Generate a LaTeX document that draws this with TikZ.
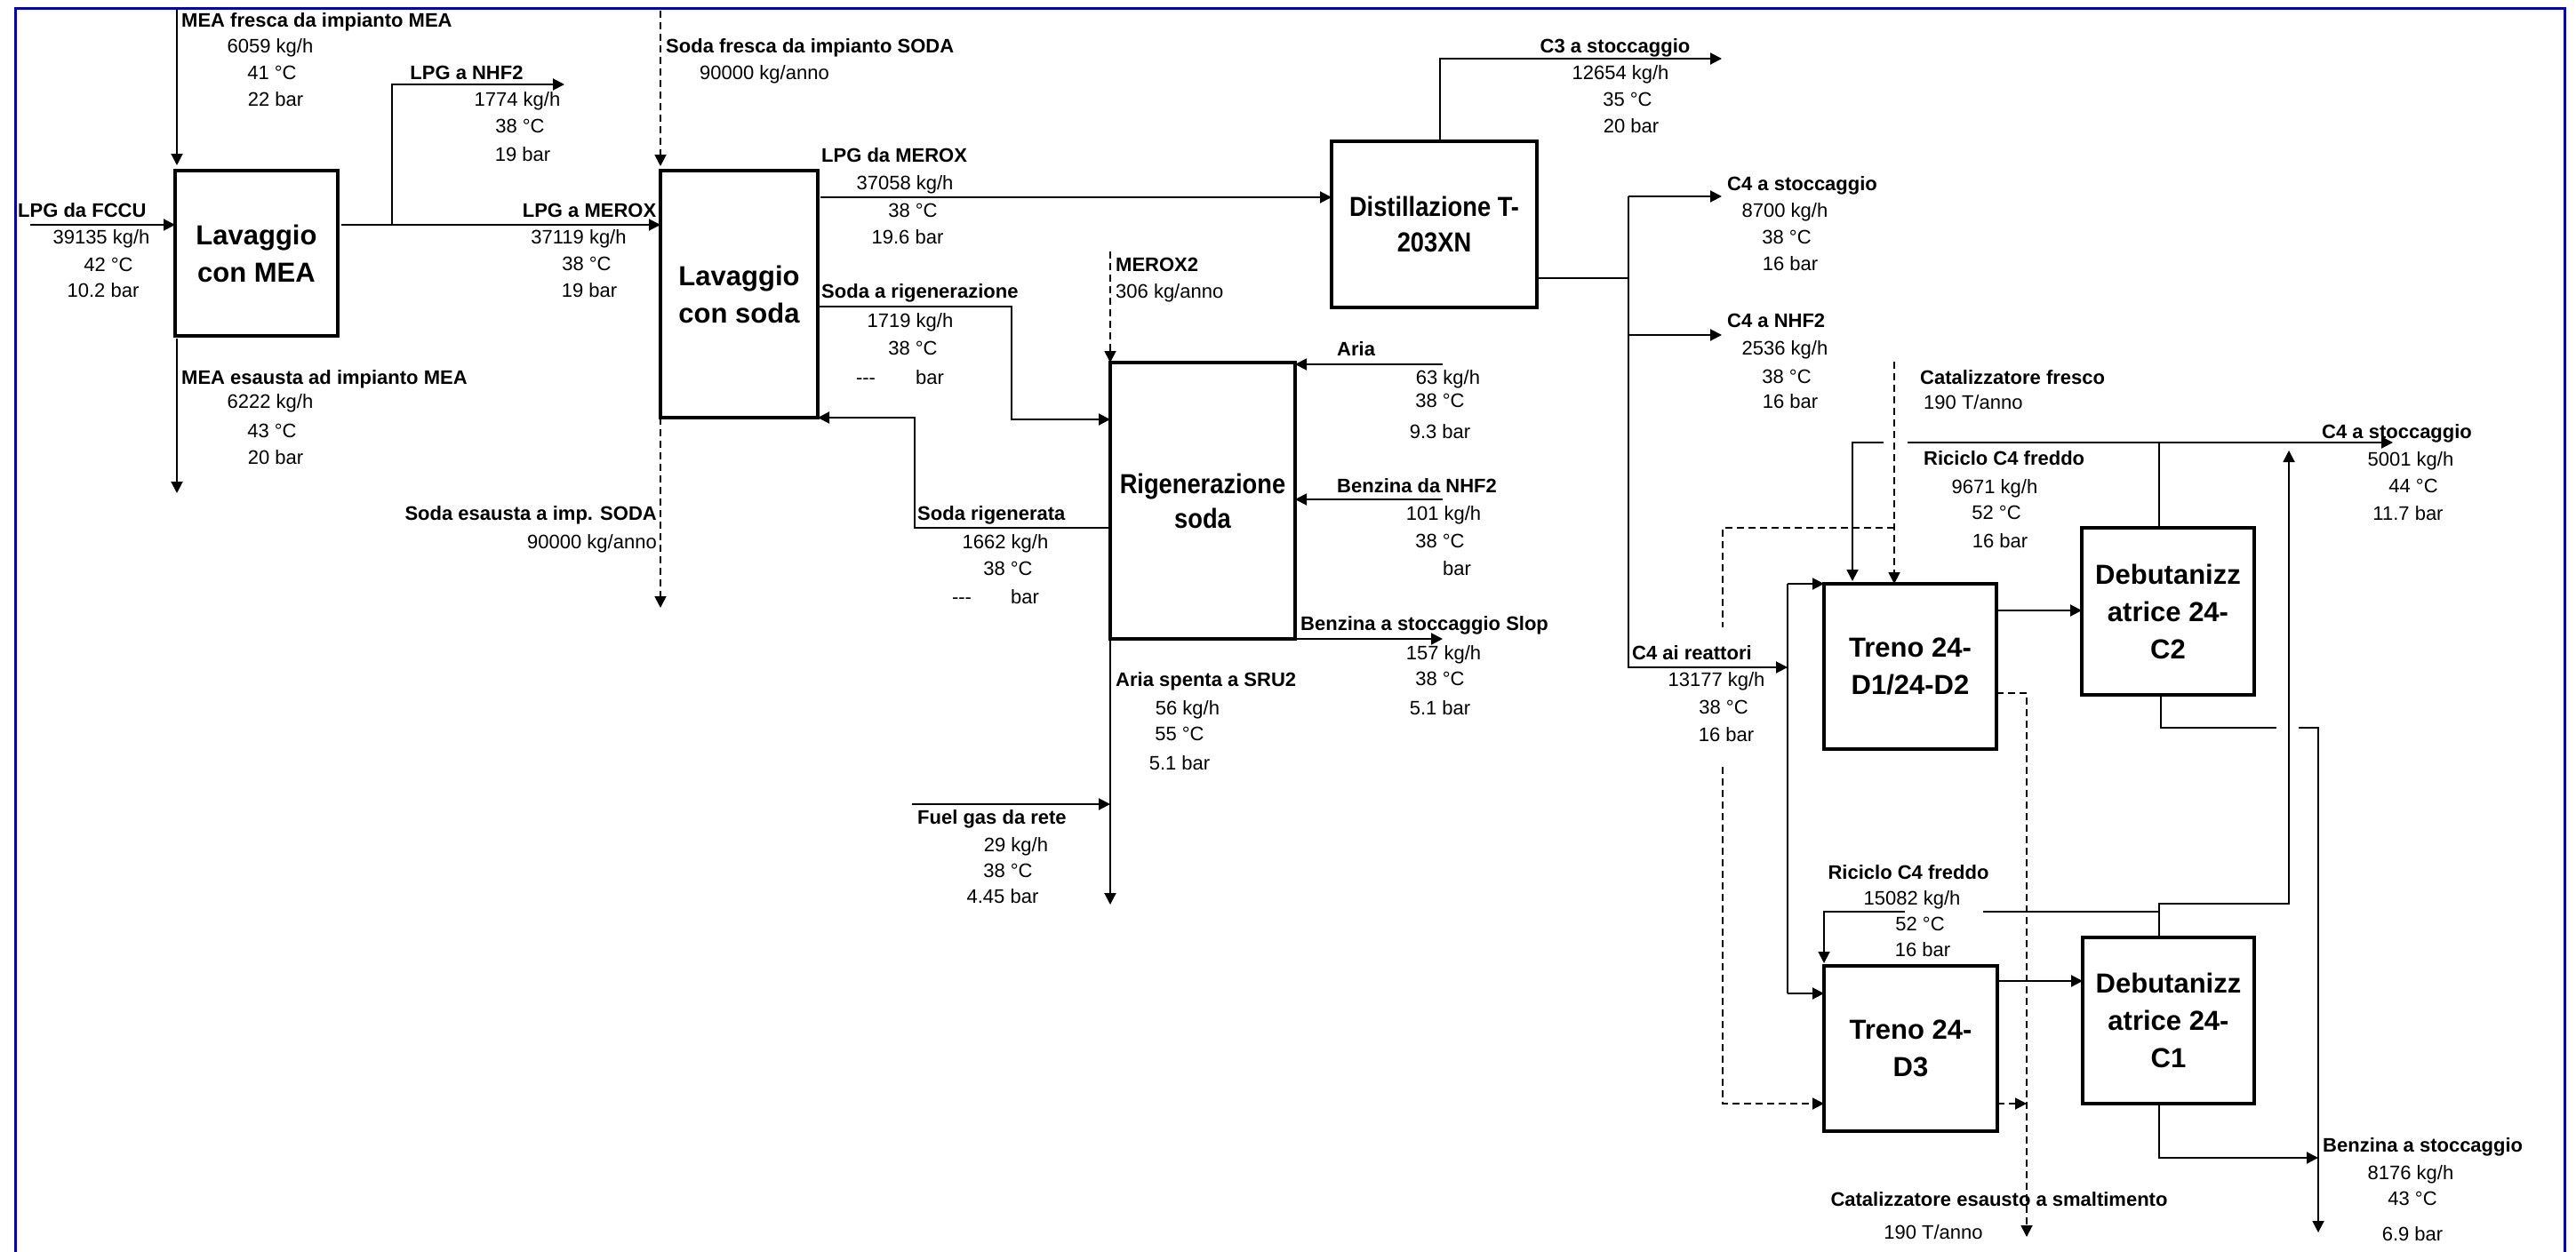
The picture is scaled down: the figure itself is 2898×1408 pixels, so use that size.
\documentclass[tikz,border=0pt]{standalone}
\usepackage{fontspec}
\setmainfont{Liberation Sans}
\newfontfamily\narrowsans{Liberation Sans}[FakeStretch=0.88]
\usetikzlibrary{arrows.meta}
\newcommand{\smallfnt}{\fontsize{22}{26}\selectfont}
\newcommand{\bigfnt}{\fontsize{31}{42}\selectfont\bfseries}
\newcommand{\nopress}{{-}{-}{-}}
\definecolor{frameblue}{RGB}{0,0,210}

\begin{document}
\begin{tikzpicture}[x=1pt,y=-1pt,
  unit/.style={draw, line width=4pt, inner sep=0pt, outer sep=0pt, align=center, font=\bigfnt},
  flow/.style={line width=2pt},
  arr/.style={flow, -{Triangle[length=13pt,width=13pt]}},
  dflow/.style={line width=1.8pt, dash pattern=on 8pt off 5pt},
  darr/.style={dflow, -{Triangle[length=13pt,width=13pt]}},
  tag/.style={font=\bfseries\smallfnt, anchor=mid west, inner sep=0pt, yshift=-5pt},
  qty/.style={font=\smallfnt, anchor=mid, inner sep=0pt, yshift=-5pt},
  frame/.style={line width=3pt, draw=frameblue}]

\useasboundingbox (0,0) rectangle (2898,1408);
\fill[white] (0,0) rectangle (2898,1408);
\draw[frame] (17,1420) -- (17,9) -- (2885,9) -- (2885,1420);

% ---------------- process units ----------------
\node[unit, minimum width=183pt, minimum height=186pt] (mea)  at (288.5,285)    {Lavaggio\\con MEA};
\node[unit, minimum width=177pt, minimum height=278pt] (soda) at (831.5,331)    {Lavaggio\\con soda};
\node[unit, minimum width=231pt, minimum height=187pt, font=\fontsize{31}{40}\selectfont\narrowsans\bfseries] (dist) at (1613.5,252.5) {Distillazione T-\\203XN};
\node[unit, minimum width=208pt, minimum height=311pt, font=\fontsize{31}{39}\selectfont\narrowsans\bfseries] (rig)  at (1353,563.5)    {Rigenerazione\\soda};
\node[unit, minimum width=194pt, minimum height=186pt] (tr1)  at (2149,750)     {Treno 24-\\D1/24-D2};
\node[unit, minimum width=195pt, minimum height=186pt] (tr2)  at (2149.5,1180)  {Treno 24-\\D3};
\node[unit, minimum width=194pt, minimum height=188pt] (deb2) at (2439,688)     {Debutanizz\\atrice 24-\\C2};
\node[unit, minimum width=193pt, minimum height=187pt] (deb1) at (2439.5,1148.5){Debutanizz\\atrice 24-\\C1};

% ---------------- MEA washing ----------------
\coordinate (meaIn) at (199,10);
\draw[arr, shorten >=6pt] (meaIn) -- (meaIn |- mea.north);
\coordinate (fccu) at (34,253);
\draw[arr] (fccu) -- (fccu -| mea.west);
\draw[arr, shorten <=4pt] (fccu -| mea.east) -- (fccu -| soda.west);
\coordinate (split1) at (441,253);
\coordinate (nhf2) at (635,95);
\draw[arr] (split1) |- (nhf2);
\coordinate (meaOut) at (199,555);
\draw[arr, shorten <=3pt] (meaOut |- mea.south) -- (meaOut);

% ---------------- caustic washing ----------------
\coordinate (sodaIn) at (743,12);
\draw[darr, shorten >=5pt] (sodaIn) -- (sodaIn |- soda.north);
\coordinate (sodaOut) at (743,684);
\draw[darr] (sodaOut |- soda.south) -- (sodaOut);
\coordinate (lpgY) at (923,222);
\draw[arr, shorten <=3pt] (lpgY -| soda.east) -- (lpgY -| dist.west);
\coordinate (regA) at (1138,345);
\coordinate (regB) at (1138,472);
\draw[arr] (regA -| soda.east) -- (regA) -- (regB) -- (regB -| rig.west);
\coordinate (retA) at (1029,594);
\coordinate (retB) at (1029,470);
\draw[arr] (retA -| rig.west) -- (retA) -- (retB) -- (soda.south east);

% ---------------- caustic regeneration ----------------
\coordinate (merox2) at (1249,283);
\draw[darr] (merox2) -- (rig.north west);
\coordinate (aria) at (1623,410);
\draw[arr] (aria) -- (aria -| rig.east);
\coordinate (bnhf) at (1623,562);
\draw[arr] (bnhf) -- (bnhf -| rig.east);
\coordinate (slop) at (1623,719);
\draw[arr] (rig.south east) -- (slop);
\coordinate (sru) at (1249,1018);
\draw[arr] (rig.south west) -- (sru);
\coordinate (fuel) at (1026,905);
\draw[arr] (fuel) -- (fuel -| rig.west);

% ---------------- splitter ----------------
\coordinate (c3bend) at (1620,66);
\coordinate (c3) at (1937,66);
\draw[arr] (c3bend |- dist.north) -- (c3bend) -- (c3);
\coordinate (c4y) at (1832,313);
\draw[flow] (c4y -| dist.east) -- (c4y);
\coordinate (c4top) at (1832,221);
\coordinate (c4st) at (1937,221);
\draw[arr] (c4top) -- (c4st);
\coordinate (c4n) at (1937,377);
\draw[arr] (c4top |- c4n) -- (c4n);
\coordinate (c4bot) at (1832,751);
\coordinate (reat) at (2011,751);
\draw[arr] (c4top) -- (c4bot) -- (reat);

% ---------------- reactor trains ----------------
\coordinate (dtop) at (2011,657);
\coordinate (dbot) at (2011,1118);
\draw[arr] (dtop) -- (dtop -| tr1.west);
\draw[flow] (dtop) -- (dbot);
\draw[arr] (dbot) -- (dbot -| tr2.west);

\coordinate (catin) at (2131,407);
\draw[darr] (catin) -- (catin |- tr1.north);
\coordinate (catsplit) at (2131,594);
\coordinate (catL) at (1938,594);
\coordinate (catgapA) at (1938,706);
\coordinate (catgapB) at (1938,863);
\coordinate (catlow) at (1938,1242);
\draw[dflow] (catsplit) -- (catL) -- (catgapA);
\draw[darr] (catgapB) -- (catlow) -- (catlow -| tr2.west);

\coordinate (ricTop) at (2429,498);
\coordinate (ricGapR) at (2146,498);
\coordinate (ricGapL) at (2119,498);
\coordinate (ricL) at (2084,498);
\coordinate (c4st2) at (2692,498);
\draw[flow] (ricTop |- deb2.north) -- (ricTop) -- (ricGapR);
\draw[arr, shorten >=3pt] (ricGapL) -- (ricL) -- (ricL |- tr1.north);
\draw[arr] (ricTop) -- (c4st2);

\coordinate (t1y) at (2246,687);
\draw[arr] (t1y -| tr1.east) -- (t1y -| deb2.west);
\coordinate (cdy) at (2280,780);
\coordinate (cdout) at (2280,1392);
\draw[darr] (cdy -| tr1.east) -- (cdy) -- (cdout);

\coordinate (d2b) at (2431,819);
\coordinate (gapL) at (2561,819);
\coordinate (gapR) at (2586,819);
\coordinate (benzTop) at (2608,819);
\coordinate (benzOut) at (2608,1387);
\draw[flow] (d2b |- deb2.south) -- (d2b) -- (gapL);
\draw[arr] (gapR) -- (benzTop) -- (benzOut);

\coordinate (upTop) at (2575,507);
\coordinate (upBot) at (2575,1017);
\coordinate (d1t) at (2429,1017);
\draw[arr] (d1t |- deb1.north) -- (d1t) -- (upBot) -- (upTop);

\coordinate (ric2R) at (2429,1026);
\coordinate (ric2gapR) at (2231,1026);
\coordinate (ric2gapL) at (2143,1026);
\coordinate (ric2L) at (2052,1026);
\draw[flow] (ric2R) -- (ric2gapR);
\draw[arr, shorten >=3pt] (ric2gapL) -- (ric2L) -- (ric2L |- tr2.north);

\coordinate (t2y) at (2247,1104);
\draw[arr] (t2y -| tr2.east) -- (t2y -| deb1.west);
\coordinate (cd2) at (2280,1242);
\draw[darr] (cd2 -| tr2.east) -- (cd2);
\coordinate (d1b) at (2429,1303);
\draw[arr] (d1b |- deb1.south) -- (d1b) -- (d1b -| benzTop);

% ---------------- stream labels ----------------
\node[tag] (tMeaF) at (204,23) {MEA fresca da impianto MEA};
\node[qty] (qMeaF1) at (304,52) {6059 kg/h};
\node[qty] (qMeaF2) at (306,82) {41 °C};
\node[qty] (qMeaF3) at (310,112) {22 bar};

\node[tag] (tFccu) at (20,237) {LPG da FCCU};
\node[qty] (qFccu1) at (114,267) {39135 kg/h};
\node[qty] (qFccu2) at (122,298) {42 °C};
\node[qty] (qFccu3) at (116,327) {10.2 bar};

\node[qty, font=\bfseries\smallfnt] (tNhf) at (525,82) {LPG a NHF2};
\node[qty] (qNhf1) at (582,112) {1774 kg/h};
\node[qty] (qNhf2) at (585,142) {38 °C};
\node[qty] (qNhf3) at (588,174) {19 bar};

\node[qty, font=\bfseries\smallfnt] (tMx) at (663,237) {LPG a MEROX};
\node[qty] (qMx1) at (651,267) {37119 kg/h};
\node[qty] (qMx2) at (660,297) {38 °C};
\node[qty] (qMx3) at (663,327) {19 bar};

\node[tag] (tMeaE) at (204,425) {MEA esausta ad impianto MEA};
\node[qty] (qMeaE1) at (304,452) {6222 kg/h};
\node[qty] (qMeaE2) at (306,485) {43 °C};
\node[qty] (qMeaE3) at (310,515) {20 bar};

\node[tag, anchor=mid east] (tSodaE) at (739,578) {Soda esausta a imp. SODA};
\node[qty, anchor=mid east] (qSodaE) at (739,610) {90000 kg/anno};

\node[tag] (tSodaF) at (749,52) {Soda fresca da impianto SODA};
\node[qty] (qSodaF) at (860,82) {90000 kg/anno};

\node[tag] (tLpgM) at (924,175) {LPG da MEROX};
\node[qty] (qLpgM1) at (1018,206) {37058 kg/h};
\node[qty] (qLpgM2) at (1027,237) {38 °C};
\node[qty] (qLpgM3) at (1021,267) {19.6 bar};

\node[tag] (tMx2) at (1255,298) {MEROX2};
\node[qty, anchor=mid west] (qMx2a) at (1255,328) {306 kg/anno};

\node[tag] (tSr) at (924,328) {Soda a rigenerazione};
\node[qty] (qSr1) at (1024,361) {1719 kg/h};
\node[qty] (qSr2) at (1027,392) {38 °C};
\node[qty] (qSr3a) at (974,425) {\nopress};
\node[qty] (qSr3b) at (1046,425) {bar};

\node[tag] (tRg) at (1032,578) {Soda rigenerata};
\node[qty] (qRg1) at (1131,610) {1662 kg/h};
\node[qty] (qRg2) at (1134,640) {38 °C};
\node[qty] (qRg3a) at (1082,672) {\nopress};
\node[qty] (qRg3b) at (1153,672) {bar};

\node[tag] (tAria) at (1504,393) {Aria};
\node[qty] (qAria1) at (1629,425) {63 kg/h};
\node[qty] (qAria2) at (1620,451) {38 °C};
\node[qty] (qAria3) at (1620,486) {9.3 bar};

\node[tag] (tBn) at (1504,547) {Benzina da NHF2};
\node[qty] (qBn1) at (1624,578) {101 kg/h};
\node[qty] (qBn2) at (1620,609) {38 °C};
\node[qty] (qBn3) at (1639,640) {bar};

\node[tag] (tSlop) at (1463,702) {Benzina a stoccaggio Slop};
\node[qty] (qSlop1) at (1624,735) {157 kg/h};
\node[qty] (qSlop2) at (1620,764) {38 °C};
\node[qty] (qSlop3) at (1620,797) {5.1 bar};

\node[tag] (tSru) at (1255,765) {Aria spenta a SRU2};
\node[qty] (qSru1) at (1336,797) {56 kg/h};
\node[qty] (qSru2) at (1327,826) {55 °C};
\node[qty] (qSru3) at (1327,859) {5.1 bar};

\node[tag] (tFuel) at (1032,920) {Fuel gas da rete};
\node[qty] (qFuel1) at (1143,951) {29 kg/h};
\node[qty] (qFuel2) at (1134,980) {38 °C};
\node[qty] (qFuel3) at (1128,1009) {4.45 bar};

\node[qty, font=\bfseries\smallfnt] (tC3) at (1817,52) {C3 a stoccaggio};
\node[qty] (qC31) at (1823,82) {12654 kg/h};
\node[qty] (qC32) at (1831,112) {35 °C};
\node[qty] (qC33) at (1835,142) {20 bar};

\node[tag] (tC4s) at (1943,207) {C4 a stoccaggio};
\node[qty] (qC4s1) at (2008,237) {8700 kg/h};
\node[qty] (qC4s2) at (2010,267) {38 °C};
\node[qty] (qC4s3) at (2014,297) {16 bar};

\node[tag] (tC4n) at (1943,361) {C4 a NHF2};
\node[qty] (qC4n1) at (2008,392) {2536 kg/h};
\node[qty] (qC4n2) at (2010,424) {38 °C};
\node[qty] (qC4n3) at (2014,452) {16 bar};

\node[tag] (tCatF) at (2160,425) {Catalizzatore fresco};
\node[qty, anchor=mid west] (qCatF) at (2164,453) {190 T/anno};

\node[tag] (tRic1) at (2164,516) {Riciclo C4 freddo};
\node[qty] (qRic11) at (2244,548) {9671 kg/h};
\node[qty] (qRic12) at (2246,577) {52 °C};
\node[qty] (qRic13) at (2250,609) {16 bar};

\node[tag] (tReat) at (1836,735) {C4 ai reattori};
\node[qty] (qReat1) at (1931,765) {13177 kg/h};
\node[qty] (qReat2) at (1939,796) {38 °C};
\node[qty] (qReat3) at (1942,827) {16 bar};

\node[tag] (tC4s2) at (2612,486) {C4 a stoccaggio};
\node[qty] (qC4s21) at (2712,517) {5001 kg/h};
\node[qty] (qC4s22) at (2715,547) {44 °C};
\node[qty] (qC4s23) at (2709,578) {11.7 bar};

\node[qty, font=\bfseries\smallfnt] (tRic2) at (2147,982) {Riciclo C4 freddo};
\node[qty] (qRic21) at (2151,1011) {15082 kg/h};
\node[qty] (qRic22) at (2160,1040) {52 °C};
\node[qty] (qRic23) at (2163,1069) {16 bar};

\node[qty, font=\bfseries\smallfnt] (tCatE) at (2249,1350) {Catalizzatore esausto a smaltimento};
\node[qty] (qCatE) at (2175,1387) {190 T/anno};

\node[tag] (tBenz) at (2613,1289) {Benzina a stoccaggio};
\node[qty] (qBenz1) at (2712,1320) {8176 kg/h};
\node[qty] (qBenz2) at (2714,1349) {43 °C};
\node[qty] (qBenz3) at (2714,1389) {6.9 bar};

\end{tikzpicture}
\end{document}
